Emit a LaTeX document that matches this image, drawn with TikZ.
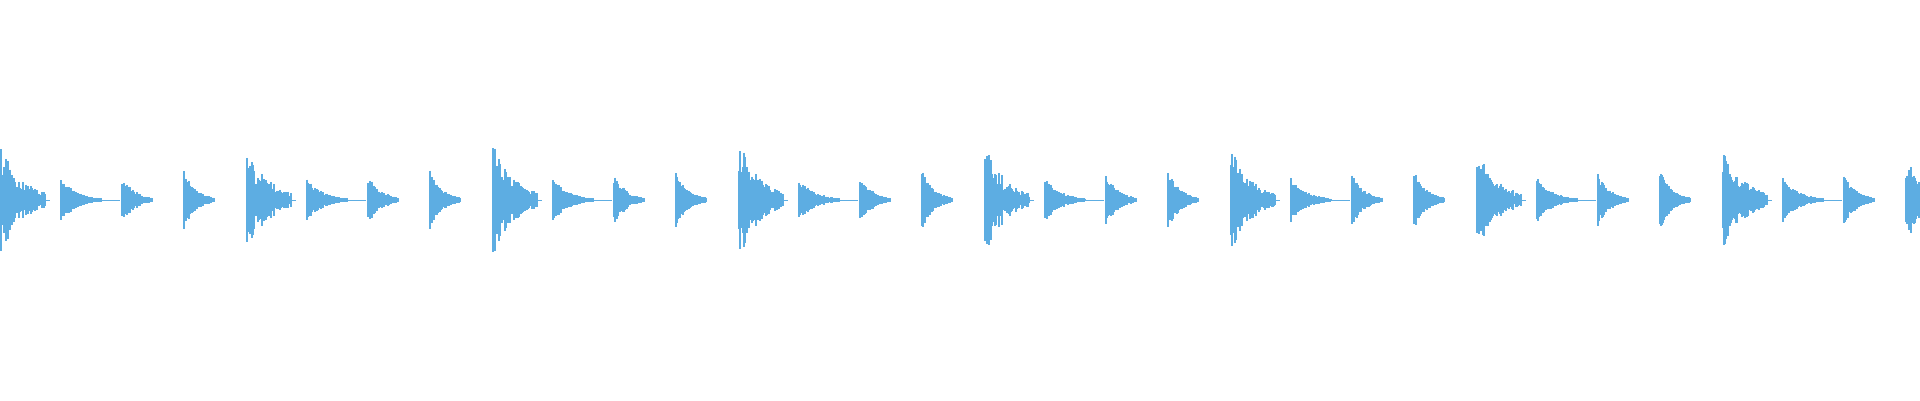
\documentclass[tikz,border=0pt]{standalone}
\definecolor{wave}{HTML}{5DADE2}
\newcommand{\wburst}[5]{% x0, amp, len, tau, jitter
  \foreach \i in {0,...,#3}{
    \pgfmathsetmacro\hh{max(0.6,#2*exp(-\i/#4)*(1-#5+#5*rnd))}
    \draw[wave] ({#1+\i},{200-\hh}) -- ({#1+\i},{200+\hh});
  }}
\begin{document}
\begin{tikzpicture}[x=1pt,y=-1pt,line width=1.05pt]
\useasboundingbox (0,0) rectangle (1920,400);
\pgfmathsetseed{7}
\foreach \p/\k in {0/55,246/55,492/57,738/60,984/54,1230/52,1476/52,1722/52}{
  \wburst{\p+1}{\k}{44}{22}{0.6}
  \draw[wave,line width=0.6pt] (\p+45,200) -- (\p+50,200);
  \wburst{\p+61}{22}{40}{16}{0.35}
  \draw[wave,line width=0.6pt] (\p+90,200) -- (\p+120,200);
  \wburst{\p+122}{26}{30}{13}{0.4}
  \wburst{\p+184}{30}{30}{12}{0.3}
}
\wburst{1908}{40}{11}{18}{0.4}
\end{tikzpicture}
\end{document}
